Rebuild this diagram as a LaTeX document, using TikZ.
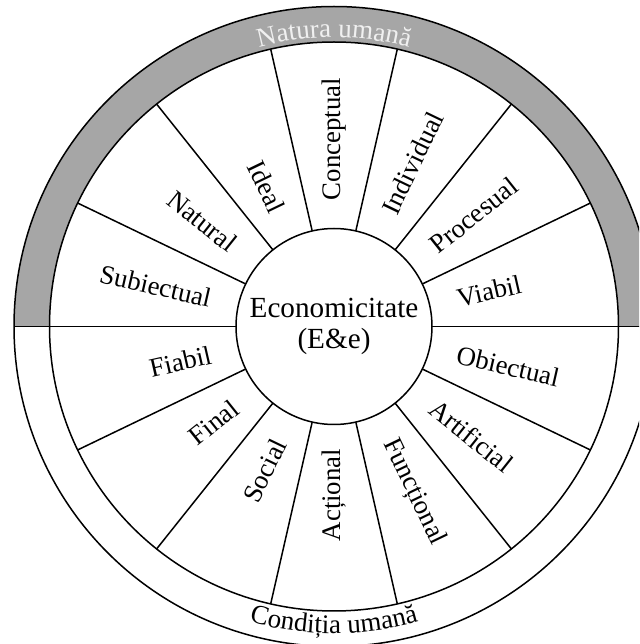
\documentclass[tikz,border=0pt]{standalone}
\usepackage{fontspec}
\setmainfont{Liberation Serif}
\usetikzlibrary{calc,decorations.text}
\definecolor{ringgray}{HTML}{A6A6A6}
\definecolor{ringtext}{HTML}{F0F0F0}
\newcommand\lblfont{\fontsize{13.4}{15}\selectfont}
\newcommand\arcfontA{\fontsize{13.5}{16}\selectfont\color{ringtext}}
\newcommand\arcfontB{\fontsize{13.5}{16}\selectfont\color{black}}
\begin{document}
\begin{tikzpicture}[x=0.5pt,y=0.5pt,
  wline/.style={line width=0.75pt,black},
  lbl/.style={inner sep=0pt,font=\lblfont}]
\useasboundingbox (0,0) rectangle (639,644);
\clip (0,0) rectangle (639,644);
\fill[white] (0,0) rectangle (639,644);
\coordinate (C) at (334,317.5);
% gray upper ring
\fill[ringgray] ($(C)+(0:320)$) arc[start angle=0,end angle=180,radius=320]
   -- ($(C)+(180:284.5)$) arc[start angle=180,end angle=0,radius=284.5] -- cycle;
\draw[wline] (C) circle[radius=320];
\draw[wline] (C) circle[radius=284.5];
% horizontal diameter
\coordinate (L) at ($(C)+(180:320)$);
\coordinate (R) at ($(C)+(0:320)$);
\draw[wline] (L) -- (R);
% spokes
\foreach \k in {1,...,6,8,9,10,11,12,13}{
  \draw[wline] ($(C)+(\k*180/7:98)$) -- ($(C)+(\k*180/7:284.5)$);
}
% core
\node[wline,draw,fill=white,circle,minimum size=98pt,inner sep=0pt,
      align=center,font=\fontsize{14.6}{15.8}\selectfont] (core) at (C)
      {Economicitate\\(E\&e)};
% labels upper half
\node[lbl,rotate=12.857,anchor=west] (viabil) at ($(C)+(12.857:126)$) {Viabil};
\node[lbl,rotate=38.571,anchor=west] (procesual) at ($(C)+(38.571:126)$) {Procesual};
\node[lbl,rotate=64.286,anchor=west] (individual) at ($(C)+(64.286:126)$) {Individual};
\node[lbl,rotate=90,anchor=west] (conceptual) at ($(C)+(90:126)$) {Conceptual};
\node[lbl,rotate=-64.286,anchor=east] (ideal) at ($(C)+(115.714:128)$) {Ideal};
\node[lbl,rotate=-38.571,anchor=east] (natural) at ($(C)+(141.429:128)$) {Natural};
\node[lbl,rotate=-12.857,anchor=east] (subiectual) at ($(C)+(167.143:126)$) {Subiectual};
% labels lower half
\node[lbl,rotate=-12.857,anchor=west] (obiectual) at ($(C)+(-12.857:126)$) {Obiectual};
\node[lbl,rotate=-38.571,anchor=west] (artificial) at ($(C)+(-38.571:126)$) {Artificial};
\node[lbl,rotate=-64.286,anchor=west] (functional) at ($(C)+(-64.286:126)$) {Funcțional};
\node[lbl,rotate=90,anchor=east] (actional) at ($(C)+(-90:122)$) {Acțional};
\node[lbl,rotate=64.286,anchor=east] (social) at ($(C)+(-115.714:126)$) {Social};
\node[lbl,rotate=38.571,anchor=east] (final) at ($(C)+(-141.429:126)$) {Final};
\node[lbl,rotate=12.857,anchor=east] (fiabil) at ($(C)+(-167.143:126)$) {Fiabil};
% ring texts
\path[decorate,decoration={text along path,text align=center,
   text={|\arcfontA|Natura umană}}]
   ($(C)+(120:289)$) arc[start angle=120,end angle=60,radius=289];
\path[decorate,decoration={text along path,text align=center,
   text={|\arcfontB|Condiția umană}}]
   ($(C)+(240:307)$) arc[start angle=240,end angle=300,radius=307];
\end{tikzpicture}
\end{document}
